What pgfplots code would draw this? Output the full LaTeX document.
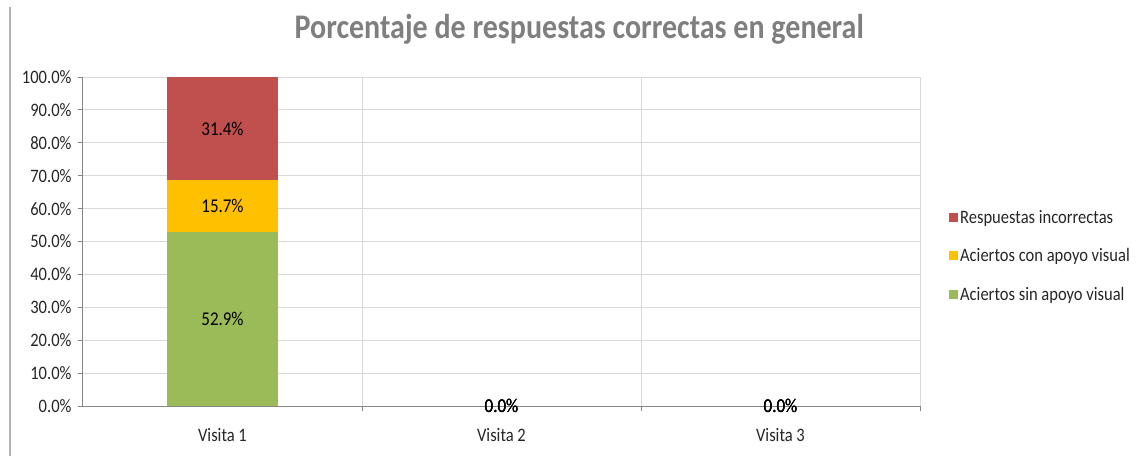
\documentclass[border=0pt]{standalone}
\usepackage{fontspec}
\setmainfont{Carlito}[FakeStretch=0.87]
\usepackage{pgfplots}
\pgfplotsset{compat=1.18}
\definecolor{cred}{HTML}{C0504D}
\definecolor{cyel}{HTML}{FFC000}
\definecolor{cgreen}{HTML}{9BBB59}
\definecolor{gridc}{HTML}{D9D9D9}
\definecolor{axc}{HTML}{868686}
\definecolor{titc}{HTML}{7F7F7F}
\definecolor{txtc}{HTML}{262626}
\begin{document}
\begin{tikzpicture}[x=1pt,y=1pt]
\path[use as bounding box] (0,0) rectangle (1141,456);
\draw[gray!60, line width=1.2pt] (10,0)--(10,449);
\begin{axis}[
  at={(83pt,50pt)}, anchor=south west, scale only axis,
  width=837pt, height=329pt,
  ybar stacked, bar width=111pt,
  xmin=-0.5, xmax=2.5, ymin=0, ymax=100,
  axis lines*=left, axis line style={axc, line width=1pt, -},
  xtick={0,1,2}, xticklabels={Visita 1, Visita 2, Visita 3},
  major x tick style={draw=none},
  minor xtick={0.5,1.5,2.5},
  minor x tick style={axc, line width=1pt},
  xminorgrids=true, ymajorgrids=true,
  grid style={gridc, line width=1pt},
  minor grid style={gridc, line width=1pt},
  ytick={0,10,...,100},
  major y tick style={axc, line width=1pt},
  tick align=outside, major tick length=5pt, minor tick length=5pt,
  yticklabel={\pgfmathprintnumber[fixed,fixed zerofill,precision=1]{\tick}\%},
  /pgf/number format/assume math mode=true,
  ticklabel style={font=\fontsize{19}{21}\selectfont, text=txtc},
  yticklabel style={xshift=-3pt},
  xticklabel style={yshift=-14pt},
  title={\textbf{Porcentaje de respuestas correctas en general}},
  title style={at={(0.593,1)}, anchor=base, yshift=32pt, font=\fontsize{34.5}{40}\selectfont, text=titc},
  reverse legend,
  legend cell align=left,
  legend style={at={(1.031,0.456)}, anchor=west, draw=none, fill=none,
    font=\fontsize{19}{21}\selectfont, text=txtc, row sep=20pt},
  legend image code/.code={\fill[#1] (0pt,-4.5pt) rectangle (9pt,4.5pt);},
]
\addplot[fill=cgreen, draw=none] coordinates {(0,52.9) (1,0) (2,0)};
\addlegendentry{Aciertos sin apoyo visual}
\addplot[fill=cyel, draw=none] coordinates {(0,15.7) (1,0) (2,0)};
\addlegendentry{Aciertos con apoyo visual}
\addplot[fill=cred, draw=none] coordinates {(0,31.4) (1,0) (2,0)};
\addlegendentry{Respuestas incorrectas}
\end{axis}
\begin{axis}[
  at={(83pt,50pt)}, anchor=south west, scale only axis,
  width=837pt, height=329pt, hide axis,
  xmin=-0.5, xmax=2.5, ymin=0, ymax=100,
]
\addplot[draw=none, mark=none, nodes near coords, point meta=explicit symbolic,
  every node near coord/.append style={anchor=center, font=\fontsize{19.5}{21}\selectfont, text=black}]
  coordinates {(0,26.45) [52.9\%] (0,60.75) [15.7\%] (0,84.3) [31.4\%]
   (1,0) [0.0\%] (1,0) [0.0\%] (1,0) [0.0\%]
   (2,0) [0.0\%] (2,0) [0.0\%] (2,0) [0.0\%]};
\end{axis}
\end{tikzpicture}
\end{document}
